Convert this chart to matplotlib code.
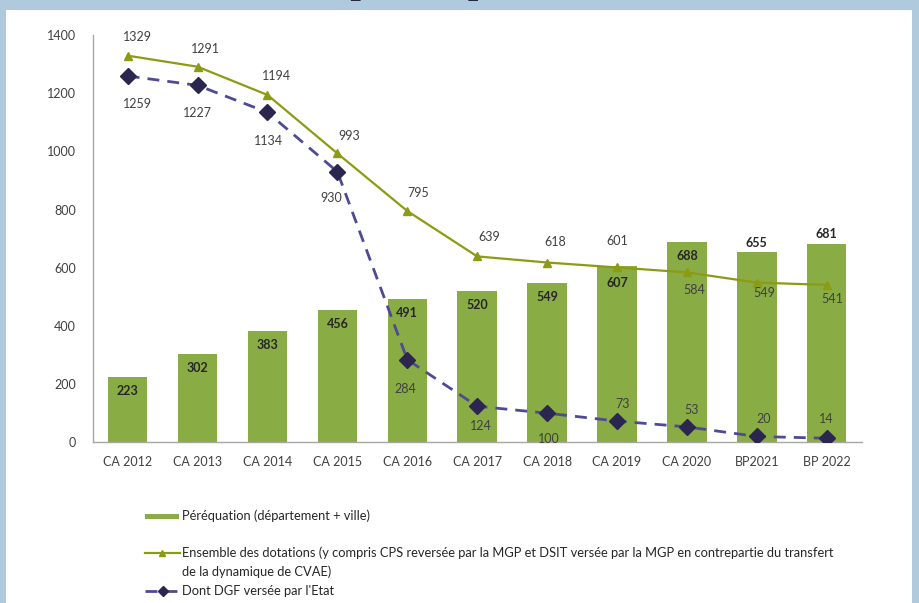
import matplotlib
matplotlib.use("Agg")
import matplotlib.pyplot as plt
from matplotlib.lines import Line2D
from matplotlib.patches import Rectangle
import numpy as np

# data
categories = ["CA 2012", "CA 2013", "CA 2014", "CA 2015", "CA 2016", "CA 2017",
              "CA 2018", "CA 2019", "CA 2020", "BP2021", "BP 2022"]
perequation = [223, 302, 383, 456, 491, 520, 549, 607, 688, 655, 681]
dotations = [1329, 1291, 1194, 993, 795, 639, 618, 601, 584, 549, 541]
dgf = [1259, 1227, 1134, 930, 284, 124, 100, 73, 53, 20, 14]

label_perequation = "Péréquation (département + ville)"
label_dotations = ("Ensemble des dotations (y compris CPS reversée par la MGP et DSIT versée par la MGP en contrepartie du transfert\n"
                   "de la dynamique de CVAE)")
label_dgf = "Dont DGF versée par l'Etat"

# label offsets in pixels (dx, dy)
off_bar = [(0, -14)] * 7 + [(0, -17), (0, -14), (0, 9), (0, 10)]
off_dot = [(10, 19), (8, 18), (9, 19), (12, 17), (11, 18), (12, 19), (8, 21),
           (0, 26), (7, -18), (7, -10), (6, -14)]
off_dgf = [(10, -28), (0, -28), (1, -29), (-6, -26), (-2, -29), (4, -20),
           (2, -26), (6, 17), (5, 17), (7, 17), (0, 19)]

BAR_COLOR = "#89AC45"
LINE_GREEN = "#8C9B14"
DASH_COLOR = "#4F4A94"
DIAMOND = "#2A2650"
TEXT = "#404040"
FRAME = "#AFCADD"

plt.rcParams['font.family'] = ['Lato', 'DejaVu Sans']

W, H = 920, 603
fig = plt.figure(figsize=(W / 100, H / 100), dpi=100)
fig.patch.set_facecolor(FRAME)

# white panel inside the blue frame
fig.add_artist(Rectangle((6 / W, 0), (912 - 6) / W, (H - 10) / H,
                         transform=fig.transFigure, facecolor="white",
                         edgecolor="none", zorder=-1))
# clipped title remnants at the very top (only the bottoms show)
fig.text(414 / W, 1 + 6 / H, "[   …   ]", fontsize=34, fontweight="bold",
         color="#1F2A44", ha="center", va="baseline", zorder=-2)

ax = fig.add_axes([92.7 / W, 1 - 442.3 / H, (861.7 - 92.7) / W, (442.3 - 35) / H])
ax.set_facecolor("none")

x = np.arange(len(categories))
ax.bar(x, perequation, width=0.565, color=BAR_COLOR, zorder=1)
ax.plot(x, dotations, color=LINE_GREEN, lw=1.6, marker="^", markersize=6,
        zorder=3)
ax.plot(x, dgf, color=DASH_COLOR, lw=2, dashes=(4.3, 2.9), zorder=3)
ax.plot(x, dgf, linestyle="none", marker="D", markersize=8, color=DIAMOND,
        zorder=4)

for xi, v, (dx, dy) in zip(x, perequation, off_bar):
    ax.annotate(str(v), (xi, v), xytext=(dx, dy), textcoords="offset pixels",
                ha="center", va="center", fontsize=9, fontweight="bold",
                color="#262626", zorder=5)
for xi, v, (dx, dy) in zip(x, dotations, off_dot):
    ax.annotate(str(v), (xi, v), xytext=(dx, dy), textcoords="offset pixels",
                ha="center", va="center", fontsize=9, color=TEXT, zorder=5)
for xi, v, (dx, dy) in zip(x, dgf, off_dgf):
    ax.annotate(str(v), (xi, v), xytext=(dx, dy), textcoords="offset pixels",
                ha="center", va="center", fontsize=9, color=TEXT, zorder=5)

ax.set_xlim(-0.5, len(categories) - 0.5)
ax.set_ylim(0, 1400)
ax.set_yticks(range(0, 1401, 200))
ax.set_xticks(x)
ax.set_xticklabels(categories)
ax.tick_params(axis="both", length=0, labelsize=9, colors=TEXT)
ax.tick_params(axis="y", pad=12)
ax.tick_params(axis="x", pad=10)
for s in ("top", "right"):
    ax.spines[s].set_visible(False)
for s in ("left", "bottom"):
    ax.spines[s].set_color("#A6A6A6")
    ax.spines[s].set_linewidth(1)

# legend drawn by hand to keep the uneven spacing of the original
def fx(px):
    return px / W

def fy(py):
    return 1 - py / H

LEG_FS = 9.3
fig.add_artist(Rectangle((fx(145), fy(519)), fx(34), 5 / H,
                         transform=fig.transFigure, facecolor=BAR_COLOR,
                         edgecolor="none"))
fig.text(fx(182), fy(516), label_perequation, fontsize=LEG_FS, color="#262626",
         ha="left", va="center")

fig.add_artist(Line2D([fx(145), fx(180)], [fy(553), fy(553)],
                      transform=fig.transFigure, color=LINE_GREEN, lw=1.6))
fig.add_artist(Line2D([fx(162)], [fy(553)], transform=fig.transFigure,
                      color=LINE_GREEN, marker="^", markersize=5))
fig.text(fx(182), fy(553), label_dotations.split("\n")[0], fontsize=LEG_FS,
         color="#262626", ha="left", va="center")
fig.text(fx(182), fy(572), label_dotations.split("\n")[1], fontsize=LEG_FS,
         color="#262626", ha="left", va="center")

fig.add_artist(Line2D([fx(145), fx(178)], [fy(591), fy(591)],
                      transform=fig.transFigure, color=DASH_COLOR, lw=2,
                      dashes=(4.3, 2.9)))
fig.add_artist(Line2D([fx(163)], [fy(591)], transform=fig.transFigure,
                      color=DIAMOND, marker="D", markersize=5))
fig.text(fx(182), fy(591), label_dgf, fontsize=LEG_FS, color="#262626",
         ha="left", va="center")

fig.savefig("out.png", dpi=100, facecolor=fig.get_facecolor())
